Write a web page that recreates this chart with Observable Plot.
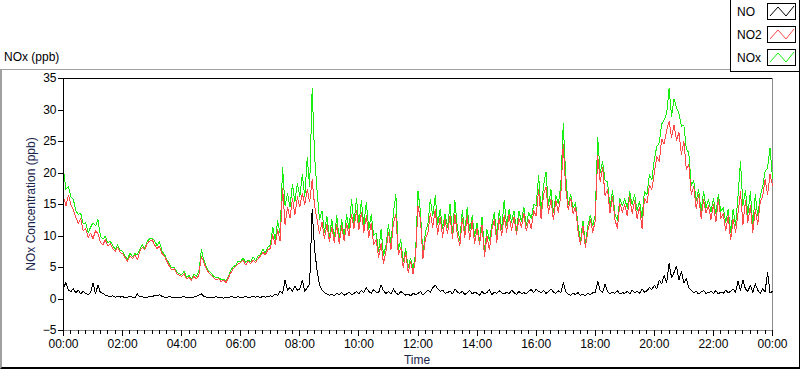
<!DOCTYPE html>
<html>
<head>
<meta charset="utf-8">
<script src="https://cdn.jsdelivr.net/npm/d3@7"></script>
<script src="https://cdn.jsdelivr.net/npm/@observablehq/plot@0.6"></script>
<style>
  html, body { margin: 0; padding: 0; background: #fff; }
  body { width: 800px; height: 369px; position: relative; overflow: hidden;
         font-family: "Liberation Sans", Arial, sans-serif; font-size: 12px; color: #000; }
  #panel { position: absolute; left: 0; top: 69px; width: 800px; height: 300px; box-sizing: border-box;
           border-top: 1px solid #a0a0a0; border-left: 2px solid #a0a0a0;
           border-bottom: 2px solid #000; border-right: 1px solid #000; }
  #chart { position: absolute; left: 0; top: 0; }
  #title { position: absolute; left: 4px; top: 50px; line-height: 14px; }
  #ylabel { position: absolute; left: 31px; top: 204px; line-height: 14px; white-space: nowrap;
            transform: translate(-50%, -50%) rotate(-90deg); color: #18244a; }
  #xlabel { position: absolute; left: 417px; top: 353px; line-height: 14px; transform: translateX(-50%); color: #18244a; }
  #legend { position: absolute; left: 730px; top: -1px; width: 70px; height: 73px; box-sizing: border-box;
            border: 1px solid #000; background: #fff; }
  .lg { position: absolute; left: 6px; line-height: 14px; }
  .sw { position: absolute; left: 36px; }
</style>
</head>
<body>
<div id="panel"></div>
<div id="chart"></div>
<div id="title">NOx (ppb)</div>
<div id="ylabel">NOx Concentration (ppb)</div>
<div id="xlabel">Time</div>
<div id="legend"></div>
<script>
// Series names and colours
const seriesNames = ["NO", "NO2", "NOx"];
const seriesColors = ["#000000", "#ff4848", "#18ee10"];

// Sample step (minutes) of the readings below: 00:00 .. 24:00
const sampleStepMinutes = 5;

// NO (ppb), 5-minute readings (one row per hour)
const noValues = [
  1.8,2.6,1.4,1.2,1.6,1.0,1.4,0.8,1.2,0.9,0.7,1.0,
  2.5,0.8,2.2,1.0,0.9,0.6,0.5,0.4,0.5,0.3,0.4,0.3,
  0.4,0.2,0.3,0.5,0.3,0.2,0.8,0.3,0.4,0.2,0.3,0.4,
  0.3,0.6,0.5,0.7,0.4,0.3,0.2,0.4,0.3,0.2,0.3,0.2,
  0.3,0.4,0.2,0.3,0.2,0.3,0.4,0.6,0.8,0.4,0.3,0.2,
  0.3,0.2,0.4,0.2,0.3,0.1,0.3,0.2,0.4,0.3,0.2,0.4,
  0.2,0.3,0.4,0.2,0.3,0.5,0.3,0.4,0.2,0.5,0.3,0.4,
  0.5,0.4,0.8,0.6,1.2,0.9,3.0,1.4,1.8,1.2,2.0,1.4,
  1.6,3.0,1.2,1.8,2.4,14.2,7.8,4.6,2.2,1.4,1.0,0.8,
  0.6,0.8,0.5,0.9,0.7,1.0,0.6,0.8,1.1,0.7,0.9,1.2,
  0.8,1.4,1.0,1.8,1.2,0.9,1.5,1.1,1.0,2.2,1.3,0.9,
  1.2,0.8,1.6,1.0,0.7,1.2,0.9,0.6,0.8,0.5,0.9,0.7,
  0.9,1.2,0.6,1.0,1.4,1.1,1.8,2.2,1.6,1.2,1.4,0.9,
  1.0,1.3,0.8,1.6,1.1,0.9,1.2,0.7,1.0,1.4,0.8,1.1,
  0.9,0.6,1.2,0.8,1.0,1.5,0.7,1.1,0.9,1.3,1.0,0.8,
  1.1,0.8,1.4,1.0,0.7,1.2,0.9,1.0,0.8,1.2,1.5,1.0,
  1.6,1.2,1.0,1.4,0.9,1.2,1.6,1.1,0.9,1.3,1.0,2.6,
  1.2,0.8,0.6,0.9,0.7,1.0,0.6,0.8,0.5,0.9,0.7,1.0,
  1.0,2.8,1.4,1.0,2.4,1.2,0.8,1.1,0.9,1.3,0.8,1.0,
  0.9,1.2,0.8,1.4,1.0,1.2,0.9,1.6,1.1,1.3,1.8,1.5,
  2.2,1.6,3.0,2.4,3.8,2.6,5.6,3.4,4.2,5.2,3.0,4.4,
  2.6,3.2,1.8,1.4,1.0,1.2,0.8,1.1,1.3,0.9,1.0,1.2,
  0.9,1.3,0.8,1.1,0.9,1.4,1.0,1.2,1.6,1.1,2.8,1.4,
  3.0,1.6,1.2,2.2,1.0,2.4,1.4,0.9,1.6,1.2,4.2,1.0,
  1.2
];

// NO2 (ppb), 5-minute readings (one row per hour)
const no2Values = [
  16.2,14.8,16.5,15.0,14.2,13.0,12.0,12.8,10.8,11.2,9.8,10.4,
  9.6,10.8,10.4,9.0,8.6,9.4,8.4,8.8,8.0,7.6,8.2,7.4,
  7.2,6.6,6.0,6.8,6.4,7.0,6.2,7.6,8.2,7.8,8.8,9.2,
  9.4,8.6,8.0,8.4,7.2,6.8,6.0,5.2,4.6,4.8,4.0,3.8,
  3.6,4.0,3.2,3.4,3.0,3.6,3.2,3.8,6.8,5.8,4.8,4.2,
  3.8,3.4,3.0,3.2,2.8,3.0,2.6,3.4,4.2,4.8,5.2,5.6,
  5.8,6.2,5.4,6.0,5.6,6.2,5.8,6.4,6.8,7.4,7.0,7.8,
  8.0,10.2,8.6,11.0,9.2,17.6,11.8,14.6,12.8,16.0,13.4,16.2,
  14.6,16.8,15.0,17.4,15.4,19.0,14.8,12.6,10.4,12.2,9.6,11.8,
  9.2,11.4,9.0,11.8,8.8,11.6,9.2,12.0,10.0,13.4,11.2,14.0,
  11.0,13.8,10.6,13.2,9.8,12.0,8.6,9.4,6.6,8.8,5.6,7.6,
  10.6,7.8,12.0,13.4,7.0,8.2,5.0,7.4,4.2,6.0,4.0,6.4,
  14.8,12.6,6.4,9.6,10.4,13.6,11.4,14.2,10.2,13.0,9.8,12.6,
  10.4,13.2,9.6,13.4,10.2,8.4,12.8,9.8,13.2,9.4,12.4,8.8,
  11.2,8.6,11.8,6.8,10.0,7.8,11.0,12.6,9.0,12.8,10.0,13.2,
  10.6,13.4,10.8,13.0,10.2,12.8,11.4,13.6,10.8,12.6,11.2,14.0,
  13.2,17.4,12.8,16.6,17.8,13.6,15.8,12.6,15.6,13.8,16.4,24.6,
  17.6,14.2,16.0,13.6,14.6,10.8,8.6,11.6,8.2,10.8,12.6,10.6,
  12.4,22.8,18.6,20.8,16.4,17.4,13.6,16.2,12.6,11.2,15.2,13.8,
  15.0,13.2,16.2,13.6,15.6,12.8,14.6,11.2,16.0,15.2,18.0,17.4,
  20.0,22.6,21.8,25.4,24.6,26.8,28.2,25.6,27.6,25.2,26.4,23.0,
  25.0,20.6,21.4,16.6,17.8,14.4,16.6,12.8,15.8,13.6,14.8,12.6,
  15.0,12.2,15.8,12.8,13.6,10.8,13.2,9.4,12.6,10.6,13.6,17.0,
  11.8,15.6,12.2,14.8,10.6,14.2,11.8,15.4,16.2,19.0,16.6,19.8,
  18.0
];

// NOx (ppb), 5-minute readings (one row per hour)
const noxValues = [
  20.4,17.4,17.9,16.2,15.8,14.0,13.4,13.6,12.0,12.1,10.5,11.4,
  12.1,11.6,12.6,10.0,9.5,10.0,8.9,9.2,8.5,7.9,8.6,7.7,
  7.6,6.8,6.3,7.3,6.7,7.2,7.0,7.9,8.6,8.0,9.1,9.6,
  9.7,9.2,8.5,9.1,7.6,7.1,6.2,5.6,4.9,5.0,4.3,4.0,
  3.9,4.4,3.4,3.7,3.2,3.9,3.6,4.4,7.8,6.2,5.1,4.4,
  4.1,3.6,3.4,3.4,3.1,3.1,2.9,3.6,4.6,5.1,5.4,6.0,
  6.0,6.5,5.8,6.2,5.9,6.7,6.1,6.8,7.0,7.9,7.3,8.2,
  8.5,11.4,9.4,12.4,10.4,20.8,14.8,16.8,14.6,18.2,15.4,18.4,
  16.2,19.8,16.2,22.4,17.8,33.4,22.6,17.2,12.6,14.0,10.6,13.2,
  9.8,12.6,9.5,13.2,9.5,12.6,9.8,13.4,11.1,15.8,12.1,16.0,
  11.8,15.6,11.6,15.4,11.0,13.4,10.1,10.5,7.6,11.0,6.9,8.5,
  11.8,8.6,13.6,16.6,7.7,9.4,5.9,8.0,5.0,6.5,4.9,7.1,
  17.2,13.8,7.0,10.6,11.8,15.8,13.2,16.4,11.8,14.2,11.2,13.5,
  11.4,15.0,10.4,15.6,11.3,9.3,14.0,10.5,14.6,10.8,13.2,9.9,
  12.1,9.2,13.0,7.6,11.0,9.3,11.7,13.7,9.9,14.1,11.0,15.6,
  11.7,14.2,12.2,14.0,10.9,14.0,12.3,14.6,11.6,13.8,12.7,15.0,
  14.8,19.6,13.8,18.0,20.2,14.8,17.4,13.7,16.5,15.1,18.0,27.8,
  19.6,15.0,16.6,14.5,15.3,11.8,9.2,12.4,8.7,11.7,13.3,11.6,
  13.4,25.6,20.0,21.8,18.8,18.6,14.4,17.3,13.5,12.5,16.0,14.8,
  15.9,14.4,17.0,15.0,16.6,14.0,15.5,12.8,17.1,16.5,19.8,18.9,
  22.2,24.2,24.8,27.8,28.4,29.4,33.4,29.0,31.8,30.4,29.4,27.4,
  27.6,23.8,23.2,18.0,18.8,15.6,17.4,13.9,17.1,14.5,15.8,13.8,
  15.9,13.5,16.6,13.9,14.5,12.2,14.2,10.6,14.2,11.7,16.4,21.8,
  14.8,17.2,13.4,17.0,11.6,16.6,13.2,16.3,17.8,20.2,20.8,24.0,
  19.2
];

// Axis ticks
const xTickLabels = ["00:00","02:00","04:00","06:00","08:00","10:00","12:00","14:00","16:00","18:00","20:00","22:00","00:00"];
const xMajorStepMinutes = 120;
const xMinorStepMinutes = 15;
const yTicks = [-5, 0, 5, 10, 15, 20, 25, 30, 35];

// Build table
const rows = noValues.map((v, i) => ({ t: i * sampleStepMinutes, NO: v, NO2: no2Values[i], NOx: noxValues[i] }));
const xMajor = xTickLabels.map((_, i) => i * xMajorStepMinutes);
const xEnd = xMajor[xMajor.length - 1];
const xMinor = d3.range(0, xEnd + 1, xMinorStepMinutes).filter(m => m % xMajorStepMinutes !== 0);

const chart = Plot.plot({
  width: 800,
  height: 369,
  marginLeft: 63,
  marginRight: 28,
  marginTop: 78,
  marginBottom: 39,
  style: { fontFamily: "Liberation Sans, Arial, sans-serif", fontSize: "12px", color: "#000", background: "transparent", overflow: "visible" },
  x: { domain: [0, xEnd] },
  y: { domain: [yTicks[0], yTicks[yTicks.length - 1]] },
  marks: [
    Plot.ruleY([yTicks[0]], { stroke: "#8c8c8c", shapeRendering: "crispEdges" }),
    Plot.ruleX([xEnd], { stroke: "#8c8c8c", shapeRendering: "crispEdges" }),
    Plot.line(rows, { x: "t", y: "NOx", stroke: seriesColors[2], strokeWidth: 1, shapeRendering: "crispEdges" }),
    Plot.line(rows, { x: "t", y: "NO2", stroke: seriesColors[1], strokeWidth: 1, shapeRendering: "crispEdges" }),
    Plot.line(rows, { x: "t", y: "NO", stroke: seriesColors[0], strokeWidth: 1, shapeRendering: "crispEdges" }),
    Plot.ruleY([yTicks[yTicks.length - 1]], { stroke: "#000", shapeRendering: "crispEdges" }),
    Plot.ruleX([0], { stroke: "#000", shapeRendering: "crispEdges" }),
    Plot.axisY({ ticks: yTicks, tickSize: 5, tickPadding: 2, label: null, anchor: "left", shapeRendering: "crispEdges" }),
    Plot.axisX({ ticks: xMajor, tickSize: 6, tickPadding: 3, label: null, anchor: "bottom",
                 tickFormat: d => xTickLabels[xMajor.indexOf(d)], shapeRendering: "crispEdges" }),
    Plot.axisX({ ticks: xMinor, tickSize: 4, tickPadding: 3, label: null, anchor: "bottom",
                 tickFormat: () => "", shapeRendering: "crispEdges" })
  ]
});
document.getElementById("chart").appendChild(chart);

// Legend
const legend = document.getElementById("legend");
const itemTops = [6, 29, 52];
seriesNames.forEach((name, i) => {
  const lab = document.createElement("div");
  lab.className = "lg";
  lab.style.top = (itemTops[i] - 1) + "px";
  lab.textContent = name;
  legend.appendChild(lab);
  const sw = document.createElementNS("http://www.w3.org/2000/svg", "svg");
  sw.setAttribute("class", "sw");
  sw.setAttribute("width", "29");
  sw.setAttribute("height", "17");
  sw.style.top = (itemTops[i] - 3) + "px";
  sw.innerHTML = `<rect x="0.5" y="0.5" width="28" height="16" fill="#fff" stroke="#000"/>
    <polyline points="3,13 11,4 19,13 27,3" fill="none" stroke="${seriesColors[i]}" stroke-width="1"/>`;
  legend.appendChild(sw);
});
</script>
</body>
</html>
